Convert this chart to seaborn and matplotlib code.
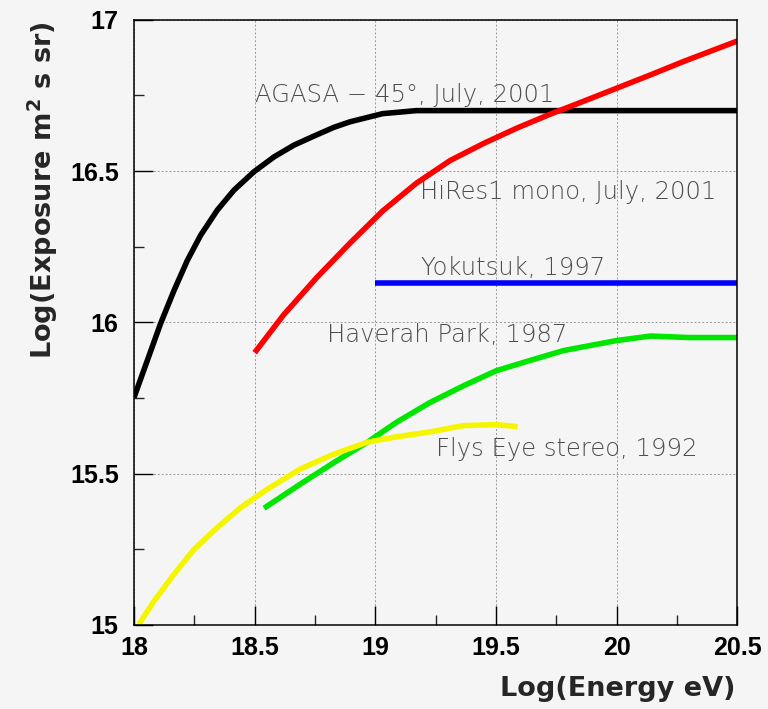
import matplotlib
matplotlib.use("Agg")
import matplotlib.pyplot as plt
import seaborn as sns
import pandas as pd
from matplotlib.ticker import MultipleLocator

# ---- data ----
agasa_x = [18.0, 18.055, 18.11, 18.166, 18.221, 18.276, 18.345, 18.414, 18.497, 18.58, 18.663,
           18.746, 18.829, 18.895, 19.03, 19.17, 19.5, 20.0, 20.5]
agasa_y = [15.752, 15.874, 15.996, 16.106, 16.205, 16.288, 16.371, 16.437, 16.498, 16.547, 16.586,
           16.616, 16.645, 16.663, 16.69, 16.70, 16.70, 16.70, 16.70]

hires_x = [18.5, 18.62, 18.757, 18.895, 19.03, 19.17, 19.31, 19.45, 19.586, 19.724, 19.86, 20.0,
           20.14, 20.276, 20.5]
hires_y = [15.90, 16.025, 16.148, 16.262, 16.368, 16.46, 16.535, 16.592, 16.642, 16.688, 16.73, 16.774,
           16.818, 16.862, 16.93]

yak_x = [19.0, 20.5]
yak_y = [16.13, 16.13]

haverah_x = [18.539, 18.69, 18.829, 18.967, 19.088, 19.226, 19.364, 19.5, 19.64, 19.78, 20.0,
             20.14, 20.3, 20.5]
haverah_y = [15.386, 15.466, 15.537, 15.604, 15.67, 15.735, 15.79, 15.84, 15.874, 15.907, 15.94,
             15.955, 15.95, 15.95]

flys_x = [18.02, 18.083, 18.166, 18.249, 18.345, 18.442, 18.553, 18.69, 18.829, 18.967, 19.088,
          19.226, 19.364, 19.5, 19.59]
flys_y = [15.002, 15.079, 15.168, 15.25, 15.322, 15.388, 15.449, 15.516, 15.565, 15.604, 15.622,
          15.638, 15.659, 15.662, 15.656]

labels = ["AGASA \u2212 45\u00b0, July, 2001", "HiRes1 mono, July, 2001", "Yokutsuk, 1997",
          "Haverah Park, 1987", "Flys Eye stereo, 1992"]
label_pos = [(18.5, 16.75), (19.185, 16.43), (19.19, 16.18), (18.80, 15.96), (19.25, 15.58)]

x_ticks = [18, 18.5, 19, 19.5, 20, 20.5]
x_ticklabels = ["18", "18.5", "19", "19.5", "20", "20.5"]
y_ticks = [15, 15.5, 16, 16.5, 17]
y_ticklabels = ["15", "15.5", "16", "16.5", "17"]

series = [
    (agasa_x, agasa_y, "#000000"),
    (hires_x, hires_y, "#ff0000"),
    (yak_x, yak_y, "#0000ff"),
    (haverah_x, haverah_y, "#00e600"),
    (flys_x, flys_y, "#f5f500"),
]

sns.set_style("ticks")
plt.rcParams["font.family"] = ["Liberation Sans", "DejaVu Sans"]

bg = "#f5f5f5"
fig = plt.figure(figsize=(7.68, 7.09), dpi=100, facecolor=bg)
ax = fig.add_axes([0.1745, 0.1185, 0.7855, 0.8535])
ax.set_facecolor(bg)

for xs, ys, c in series:
    df = pd.DataFrame({"x": xs, "y": ys})
    sns.lineplot(data=df, x="x", y="y", ax=ax, color=c, linewidth=4.0,
                 sort=False, estimator=None, solid_capstyle="butt",
                 solid_joinstyle="round")

for t, (tx, ty) in zip(labels, label_pos):
    ax.text(tx, ty, t, fontsize=17.5, color="#4d4d4d", ha="left", va="center",
            family=["DejaVu Sans"], fontweight="light")

ax.set_xlim(18, 20.5)
ax.set_ylim(15, 17)
ax.set_xticks(x_ticks)
ax.set_xticklabels(x_ticklabels)
ax.set_yticks(y_ticks)
ax.set_yticklabels(y_ticklabels)
ax.xaxis.set_minor_locator(MultipleLocator(0.25))
ax.yaxis.set_minor_locator(MultipleLocator(0.25))
ax.tick_params(which="major", direction="in", length=14, width=1, colors="black",
               labelsize=18, top=False, right=False)
ax.tick_params(which="minor", direction="in", length=7, width=1, top=False, right=False)
ax.tick_params(axis="x", which="major", pad=8)
ax.tick_params(axis="y", which="major", pad=11)
for lab in ax.get_xticklabels() + ax.get_yticklabels():
    lab.set_fontweight("bold")

ax.grid(True, which="major", linestyle=(0, (2, 2)), color="#999999", linewidth=0.7)
for s in ax.spines.values():
    s.set_visible(True)
    s.set_color("black")
    s.set_linewidth(1.1)

ax.set_xlabel("Log(Energy eV)", fontsize=19.5, fontweight="bold", loc="right",
              family=["DejaVu Sans"])
ax.set_ylabel("Log(Exposure m$^{\\mathbf{2}}$ s sr)", fontsize=19.5, fontweight="bold", loc="top",
              family=["DejaVu Sans"])
ax.xaxis.set_label_coords(0.997, -0.085)
ax.yaxis.set_label_coords(-0.123, 0.997)

fig.savefig("out.png", dpi=100, facecolor=bg)
